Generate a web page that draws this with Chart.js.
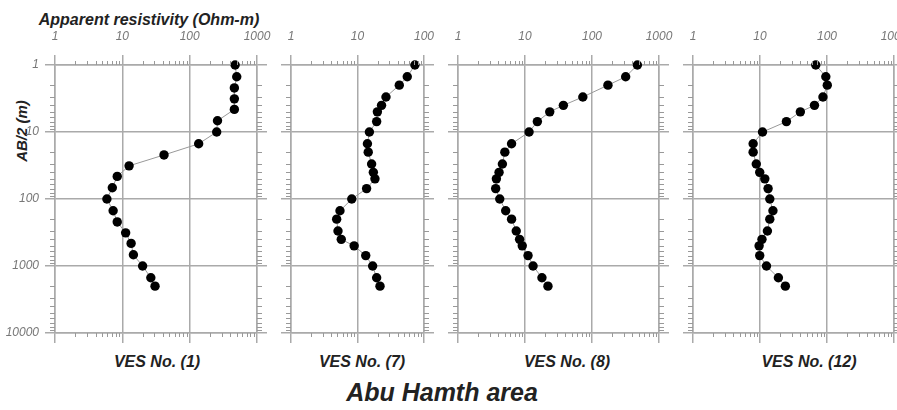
<!DOCTYPE html>
<html>
<head>
<meta charset="utf-8">
<script src="https://cdn.jsdelivr.net/npm/chart.js@4/dist/chart.umd.min.js"></script>
<style>
  body { margin: 0; background: #fff; width: 897px; height: 410px; overflow: hidden; position: relative;
         font-family: "Liberation Sans", Arial, sans-serif; }
  canvas { position: absolute; top: 0; }
  .lbl { position: absolute; transform: translate(-50%, -50%); white-space: nowrap;
         font-weight: bold; font-style: italic; color: #222; }
</style>
</head>
<body>
<div class="lbl" style="left:149px; top:20px; font-size:16px;">Apparent resistivity (Ohm-m)</div>
<div class="lbl" style="left:21px; top:131px; font-size:15px; transform: translate(-50%, -50%) rotate(-90deg);">AB/2 (m)</div>
<div class="lbl" style="left:157px; top:362px; font-size:16px;">VES No. (1)</div>
<div class="lbl" style="left:362px; top:362px; font-size:16px;">VES No. (7)</div>
<div class="lbl" style="left:567px; top:362px; font-size:16px;">VES No. (8)</div>
<div class="lbl" style="left:809px; top:362px; font-size:16px;">VES No. (12)</div>
<div class="lbl" style="left:442px; top:392px; font-size:25px;">Abu Hamth area</div>

<canvas id="c1"></canvas>
<canvas id="c7"></canvas>
<canvas id="c8"></canvas>
<canvas id="c12"></canvas>

<script>
// AB/2 spacings (m)
const depth1 = [1, 1.5, 2.2, 3.2, 4.6, 6.8, 10, 15, 22, 32, 46, 68, 100, 150, 220, 320, 460, 680, 1000, 1500, 2000];
const depth = [1, 1.5, 2, 3, 4, 5, 7, 10, 15, 20, 30, 40, 50, 70, 100, 150, 200, 300, 400, 500, 700, 1000, 1500, 2000];

// apparent resistivity (Ohm-m)
const ves1 = [473, 500, 461, 461, 461, 259, 252, 136, 41.6, 12.6, 8.4, 7.1, 5.9, 7.3, 8.4, 11.2, 13.5, 14.6, 20, 26.5, 30.6];
const ves7 = [73, 56, 42.5, 26.8, 23, 19.9, 19.4, 15.1, 14.1, 14.5, 16.3, 17.3, 18.3, 13.7, 8.2, 5.45, 4.86, 5.09, 5.7, 8.9, 13.3, 16.9, 19.4, 21.8];
const ves8 = [476, 318, 173, 73, 37.4, 23.4, 15.3, 11.5, 6.3, 5.0, 4.6, 4.1, 3.74, 3.65, 4.2, 5.15, 6.3, 7.4, 8.3, 9.1, 11.1, 13.2, 17.9, 22];
const ves12 = [68, 96, 101, 87, 65, 40, 24.8, 10.9, 7.9, 7.9, 8.8, 9.9, 11.8, 13.2, 14, 15.6, 14, 12.9, 10.7, 9.7, 9.9, 12.5, 18.8, 23.9];

const xDecades = [1, 10, 100, 1000];
const yDecades = [1, 10, 100, 1000, 10000];

const gridCol = '#aaa';
const tickFont = { family: '"Liberation Sans", Arial, sans-serif', size: 12, style: 'italic' };

// small log ticks between decades on all four sides
const minorTicks = {
  id: 'minorTicks',
  afterDraw(chart) {
    const { ctx, chartArea: a, scales } = chart;
    ctx.save();
    ctx.strokeStyle = '#999';
    ctx.lineWidth = 1;
    ctx.beginPath();
    const xs = scales.x;
    for (let d = 1; d < xs.max; d *= 10) {
      for (let k = 2; k <= 9; k++) {
        const px = Math.round(xs.getPixelForValue(k * d)) + 0.5;
        ctx.moveTo(px, a.top); ctx.lineTo(px, a.top - 4);
        ctx.moveTo(px, a.bottom); ctx.lineTo(px, a.bottom + 4);
      }
    }
    const ys = scales.y;
    for (let d = 1; d < ys.max; d *= 10) {
      for (let k = 2; k <= 9; k++) {
        const py = Math.round(ys.getPixelForValue(k * d)) + 0.5;
        ctx.moveTo(a.left, py); ctx.lineTo(a.left - 5, py);
        ctx.moveTo(a.right, py); ctx.lineTo(a.right + 5, py);
      }
    }
    ctx.stroke();
    ctx.restore();
  }
};

function makePanel(id, plotLeft, plotRight, xMax, ys, xs, showY) {
  const padL = showY ? 55 : 20;
  const padR = 16;
  const canvas = document.getElementById(id);
  canvas.width = plotRight - plotLeft + padL + padR;
  canvas.height = 410;
  canvas.style.left = (plotLeft - padL) + 'px';

  const decadeTicks = list => s => { s.ticks = list.filter(v => v <= s.max).map(v => ({ value: v })); };
  const fixH = h => s => { s.height = h; s.paddingLeft = 0; s.paddingRight = 0; };
  const fixW = w => s => { s.width = w; s.paddingTop = 0; s.paddingBottom = 0; };
  const grid = { color: gridCol, lineWidth: 1.5, tickLength: 10, tickColor: gridCol };
  const border = { color: gridCol, width: 1.5 };

  new Chart(canvas, {
    type: 'line',
    data: {
      datasets: [{
        data: xs.map((v, i) => ({ x: v, y: ys[i] })),
        borderColor: '#999',
        borderWidth: 1,
        pointRadius: 4.7,
        pointBackgroundColor: '#000',
        pointBorderWidth: 0,
        tension: 0,
        clip: false
      }]
    },
    options: {
      responsive: false,
      animation: false,
      layout: { padding: 0 },
      plugins: { legend: { display: false }, tooltip: { enabled: false } },
      scales: {
        x: {
          type: 'logarithmic', position: 'top', min: 1, max: xMax,
          afterBuildTicks: decadeTicks(xDecades),
          afterFit: fixH(65),
          ticks: { font: tickFont, color: '#777', padding: 11, maxRotation: 0, autoSkip: false,
                   callback: v => String(v) },
          grid, border
        },
        x2: {
          type: 'logarithmic', position: 'bottom', min: 1, max: xMax,
          afterBuildTicks: decadeTicks(xDecades),
          afterFit: fixH(410 - 333),
          ticks: { display: false },
          grid: { ...grid, drawOnChartArea: false }, border
        },
        y: {
          type: 'logarithmic', position: 'left', reverse: true, min: 1, max: 10000,
          afterBuildTicks: decadeTicks(yDecades),
          afterFit: fixW(padL),
          ticks: { display: showY, font: tickFont, color: '#777', padding: 6, autoSkip: false,
                   callback: v => String(v) },
          grid, border
        },
        y2: {
          type: 'logarithmic', position: 'right', reverse: true, min: 1, max: 10000,
          afterBuildTicks: decadeTicks(yDecades),
          afterFit: fixW(padR),
          ticks: { display: false },
          grid: { ...grid, drawOnChartArea: false }, border
        }
      }
    },
    plugins: [minorTicks]
  });
}

makePanel('c1', 55, 257, 1000, depth1, ves1, true);
makePanel('c7', 291, 424, 100, depth, ves7, false);
makePanel('c8', 458, 659, 1000, depth, ves8, false);
makePanel('c12', 693, 894, 1000, depth, ves12, false);
</script>
</body>
</html>
